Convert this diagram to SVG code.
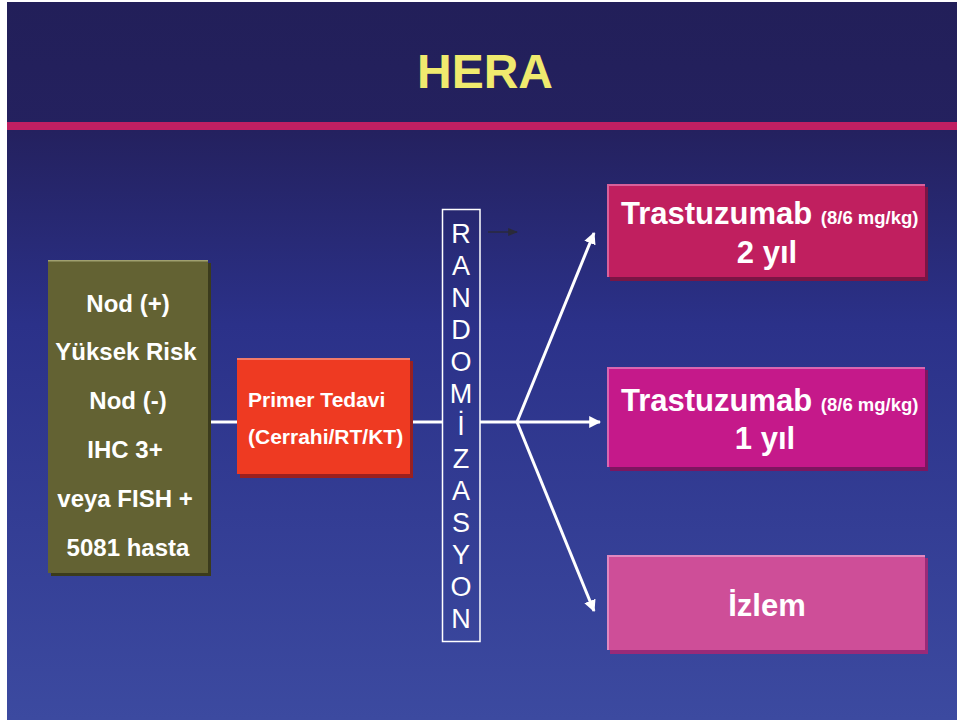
<svg xmlns="http://www.w3.org/2000/svg" width="957" height="722" viewBox="0 0 957 722">
<defs>
<linearGradient id="bg" x1="0" y1="0" x2="0" y2="1">
<stop offset="0" stop-color="#221f59"/>
<stop offset="0.18" stop-color="#24215f"/>
<stop offset="0.45" stop-color="#2b3189"/>
<stop offset="1" stop-color="#3c4aa0"/>
</linearGradient>
<marker id="ah" viewBox="0 0 10 10" refX="9" refY="5" markerWidth="4" markerHeight="4" orient="auto" markerUnits="strokeWidth">
<path d="M0,0 L10,5 L0,10 Z" fill="#ffffff"/>
</marker>
<marker id="ahd" viewBox="0 0 10 10" refX="9" refY="5" markerWidth="7" markerHeight="7" orient="auto" markerUnits="strokeWidth">
<path d="M0,1 L10,5 L0,9 Z" fill="#2a2a3a"/>
</marker>
</defs>
<style>
.t{font-family:"Liberation Sans",Arial,sans-serif;font-weight:bold;fill:#ffffff}
.r{font-family:"Liberation Sans",Arial,sans-serif;fill:#ffffff;font-size:27px;text-anchor:middle}
.c{text-anchor:middle}
.ln{stroke:#ffffff;stroke-width:3;fill:none}
</style>
<rect x="0" y="0" width="957" height="722" fill="#ffffff"/>
<rect x="7" y="2" width="950" height="718" fill="url(#bg)"/>
<rect x="7" y="122" width="950" height="8" fill="#c01f62"/>
<text x="485" y="88" class="t c" font-size="48" style="fill:#f0ea6e">HERA</text>

<g id="connectors">
<line x1="208" y1="422" x2="237" y2="422" class="ln"/>
<line x1="412" y1="422" x2="442" y2="422" class="ln"/>
<line x1="480" y1="422" x2="517" y2="422" class="ln"/>
<line x1="517" y1="422" x2="600" y2="422" class="ln" marker-end="url(#ah)"/>
<line x1="517" y1="422" x2="594" y2="233" class="ln" marker-end="url(#ah)"/>
<line x1="517" y1="422" x2="594" y2="611" class="ln" marker-end="url(#ah)"/>
<line x1="488" y1="232" x2="517" y2="232" stroke="#2a2a3a" stroke-width="1.4" marker-end="url(#ahd)"/>
</g>

<g id="patients">
<rect x="51" y="263" width="160" height="313" fill="#3b3b1c"/>
<rect x="48" y="260" width="160" height="313" fill="#636233"/>
<rect x="48" y="260" width="160" height="1.5" fill="#a0a070"/>
<text class="t c" font-size="24" x="128" y="312">Nod (+)</text>
<text class="t c" font-size="24" x="126" y="360">Yüksek Risk</text>
<text class="t c" font-size="24" x="128" y="409">Nod (-)</text>
<text class="t c" font-size="24" x="125" y="458">IHC 3+</text>
<text class="t c" font-size="24" x="125" y="507">veya FISH +</text>
<text class="t c" font-size="24" x="128" y="556">5081 hasta</text>
</g>

<g id="primary">
<rect x="240" y="361" width="173" height="117" fill="#9a2020"/>
<rect x="237" y="358" width="173" height="116" fill="#ee3a22"/>
<rect x="237" y="358" width="173" height="2" fill="#f27a68"/>
<text class="t" font-size="21" x="248" y="407">Primer Tedavi</text>
<text class="t" font-size="21" x="248" y="444">(Cerrahi/RT/KT)</text>
</g>

<g id="randomization">
<rect x="442.5" y="209.5" width="37.5" height="432" fill="none" stroke="#ffffff" stroke-width="1.5"/>
<text class="r" x="461" y="243">R</text>
<text class="r" x="461" y="275">A</text>
<text class="r" x="461" y="307">N</text>
<text class="r" x="461" y="339">D</text>
<text class="r" x="461" y="371">O</text>
<text class="r" x="461" y="403">M</text>
<text class="r" x="461" y="435">İ</text>
<text class="r" x="461" y="468">Z</text>
<text class="r" x="461" y="500">A</text>
<text class="r" x="461" y="532">S</text>
<text class="r" x="461" y="564">Y</text>
<text class="r" x="461" y="596">O</text>
<text class="r" x="461" y="628">N</text>
</g>

<g id="arm1">
<rect x="610" y="187" width="318" height="94" fill="#7a1545"/>
<rect x="607" y="184" width="318" height="93" fill="#c01f5f"/>
<rect x="607" y="184" width="318" height="2" fill="#d8609a"/>
<rect x="607" y="184" width="2" height="93" fill="#d8609a"/>
<text class="t" x="621" y="224"><tspan font-size="31">Trastuzumab </tspan><tspan font-size="18.5">(8/6 mg/kg)</tspan></text>
<text class="t c" font-size="31" x="767" y="263">2 yıl</text>
</g>

<g id="arm2">
<rect x="610" y="370" width="318" height="101" fill="#7e1560"/>
<rect x="607" y="367" width="318" height="100" fill="#c5198a"/>
<rect x="607" y="367" width="318" height="2" fill="#d866b0"/>
<rect x="607" y="367" width="2" height="100" fill="#d866b0"/>
<text class="t" x="621" y="411"><tspan font-size="31">Trastuzumab </tspan><tspan font-size="18.5">(8/6 mg/kg)</tspan></text>
<text class="t c" font-size="31" x="765" y="449">1 yıl</text>
</g>

<g id="arm3">
<rect x="610" y="558" width="318" height="96" fill="#9a2a78"/>
<rect x="607" y="555" width="318" height="95" fill="#ce4e98"/>
<rect x="607" y="555" width="318" height="2" fill="#e088c0"/>
<rect x="607" y="555" width="2" height="95" fill="#e088c0"/>
<text class="t c" font-size="31" x="767" y="616">İzlem</text>
</g>
</svg>
